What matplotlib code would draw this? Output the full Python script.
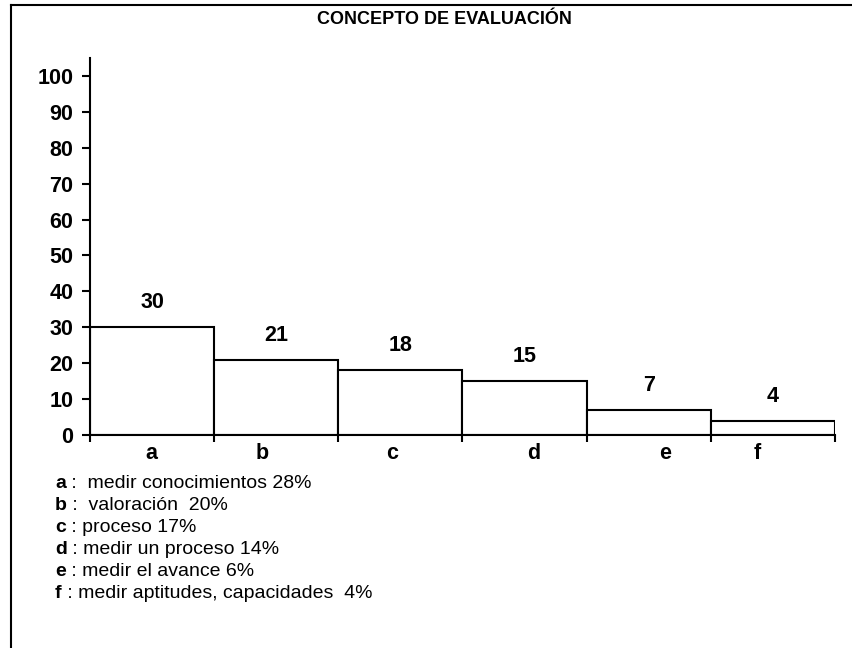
import matplotlib
matplotlib.use('Agg')
import matplotlib.pyplot as plt
from matplotlib import font_manager
from matplotlib.lines import Line2D
from matplotlib.transforms import offset_copy

plt.rcParams['font.family'] = ['Liberation Sans', 'DejaVu Sans']

categories = ['a', 'b', 'c', 'd', 'e', 'f']
values = [30, 21, 18, 15, 7, 4]
legend_text = [
    ' :  medir conocimientos 28%',
    ' :  valoración  20%',
    ' : proceso 17%',
    ' : medir un proceso 14%',
    ' : medir el avance 6%',
    ' : medir aptitudes, capacidades  4%',
]
title = 'CONCEPTO DE EVALUACIÓN'

installed = {f.name for f in font_manager.fontManager.ttflist}
title_family = 'Liberation Sans Narrow' if 'Liberation Sans Narrow' in installed else 'Liberation Sans'
title_size = 15 if title_family == 'Liberation Sans Narrow' else 13

W, H = 853, 648
fig = plt.figure(figsize=(W / 100, H / 100), dpi=100)
fig.patch.set_facecolor('white')

# outer frame (only top and left edges show)
fig.add_artist(Line2D([11 / W, 11 / W], [0, 1 - 5 / H], color='black', lw=1.5,
                      transform=fig.transFigure))
fig.add_artist(Line2D([11 / W, 1], [1 - 5 / H, 1 - 5 / H], color='black', lw=1.5,
                      transform=fig.transFigure))

ax = fig.add_axes([90 / W, 1 - 435 / H, 745 / W, 377 / H])
x = list(range(len(categories)))
bars = ax.bar(x, values, width=1.0, align='edge', facecolor='white',
              edgecolor='black', linewidth=1.5)

ax.set_xlim(0, len(categories))
ax.set_ylim(0, 105)
for s in ('top', 'right'):
    ax.spines[s].set_visible(False)
for s in ('left', 'bottom'):
    ax.spines[s].set_linewidth(1.5)

ax.set_yticks(range(0, 101, 10))
ax.set_yticklabels([str(v) for v in range(0, 101, 10)], fontsize=15.5, fontweight='bold')
ax.tick_params(axis='y', direction='out', length=6, width=1.5, pad=6)
ax.set_xticks(range(len(categories) + 1))
ax.set_xticklabels([])
ax.tick_params(axis='x', direction='out', length=5, width=1.5)

# category letters, slightly off-centre under each bar
nudge_px = [-1, -14, -8, 9, 16, -16]
for i, (cat, dx) in enumerate(zip(categories, nudge_px)):
    tr = offset_copy(ax.get_xaxis_transform(), fig=fig, x=dx * 0.72, y=0, units='points')
    ax.text(i + 0.5, -0.022, cat, transform=tr, ha='center', va='top', fontsize=15.5,
            fontweight='bold')

for b, v in zip(bars, values):
    ax.annotate(str(v), (b.get_x() + b.get_width() / 2, v), xytext=(0, 10),
                textcoords='offset points', ha='center', va='bottom',
                fontsize=15.5, fontweight='bold')

fig.text(444 / W, 1 - 20 / H, title, ha='center', va='center', fontsize=title_size,
         fontweight='bold', family=[title_family, 'DejaVu Sans'])

# key below the chart: bold letter followed by its description
fig.canvas.draw()
renderer = fig.canvas.get_renderer()
for i, (cat, desc) in enumerate(zip(categories, legend_text)):
    y = 1 - (483 + 22.2 * i) / H
    t = fig.text(55 / W, y, cat, ha='left', va='center', fontsize=14, fontweight='bold')
    bb = t.get_window_extent(renderer)
    fig.text(bb.x1 / W, y, desc, ha='left', va='center', fontsize=14)

fig.savefig('out.png', dpi=100, facecolor='white')
